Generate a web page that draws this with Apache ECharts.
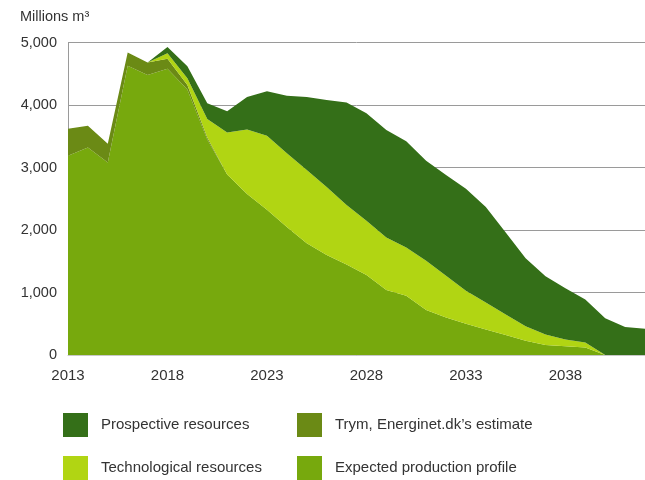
<!DOCTYPE html>
<html>
<head>
<meta charset="utf-8">
<script src="https://cdn.jsdelivr.net/npm/echarts@6/dist/echarts.min.js"></script>
<style>
  html, body { margin: 0; padding: 0; background: #fff; }
  #chart { width: 645px; height: 480px; }
</style>
</head>
<body>
<div id="chart"></div>
<script>
// Gas production outlook, millions m³ per year
const years = [];
for (let y = 2013; y <= 2042; y++) years.push(String(y));

const expectedProduction = [3190, 3320, 3080, 4630, 4480, 4580, 4250, 3450, 2890, 2575, 2325, 2050, 1790, 1600, 1450, 1280, 1040, 950, 720, 600, 500, 410, 320, 230, 160, 140, 120, 0, 0, 0];
const trymEstimate = [430, 350, 300, 210, 200, 160, 70, 30, 0, 0, 0, 0, 0, 0, 0, 0, 0, 0, 0, 0, 0, 0, 0, 0, 0, 0, 0, 0, 0, 0];
const technologicalResources = [0, 0, 0, 0, 0, 90, 110, 295, 670, 1035, 1185, 1180, 1170, 1090, 950, 870, 840, 770, 790, 670, 530, 430, 330, 230, 170, 110, 80, 0, 0, 0];
const prospectiveResources = [0, 0, 0, 0, 0, 100, 190, 255, 340, 520, 710, 920, 1170, 1390, 1640, 1720, 1720, 1700, 1600, 1610, 1630, 1530, 1310, 1090, 930, 820, 690, 590, 450, 420];

const yTicks = [0, 1000, 2000, 3000, 4000, 5000];

const names = {
  expected: 'Expected production profile',
  trym: 'Trym, Energinet.dk\u2019s estimate',
  tech: 'Technological resources',
  prosp: 'Prospective resources'
};
const colors = {
  expected: '#77a90d',
  trym: '#6b8a15',
  tech: '#b1d513',
  prosp: '#346f18'
};

const FONT = '"Liberation Sans", Arial, sans-serif';
const TEXT = '#333333';

function areaSeries(name, data, color) {
  return {
    name: name,
    type: 'line',
    stack: 'total',
    data: data,
    symbol: 'none',
    smooth: false,
    lineStyle: { width: 0, color: color },
    itemStyle: { color: color },
    areaStyle: { color: color, opacity: 1 },
    emphasis: { disabled: true }
  };
}

function legendItem(name, left, top) {
  return {
    data: [name],
    left: left,
    top: top,
    padding: 0,
    icon: 'rect',
    itemWidth: 25,
    itemHeight: 24,
    selectedMode: false,
    textStyle: { fontSize: 15, color: TEXT, fontFamily: FONT, padding: [0, 0, 0, 8] }
  };
}

const chart = echarts.init(document.getElementById('chart'), null, { renderer: 'canvas' });
chart.setOption({
  animation: false,
  backgroundColor: '#ffffff',
  title: {
    text: 'Millions m\u00B3',
    left: 20,
    top: 9,
    padding: 0,
    textStyle: { fontSize: 14.5, fontWeight: 'normal', color: TEXT, fontFamily: FONT }
  },
  legend: [
    legendItem(names.prosp, 63, 413),
    legendItem(names.trym, 297, 413),
    legendItem(names.tech, 63, 456),
    legendItem(names.expected, 297, 456)
  ],
  grid: { left: 68, right: -6, top: 42.5, bottom: 125, containLabel: false },
  xAxis: {
    type: 'category',
    data: years,
    boundaryGap: false,
    axisLine: { show: true, lineStyle: { color: '#c8c8c8', width: 1 } },
    axisTick: { show: false },
    axisLabel: { interval: 4, fontSize: 15, color: TEXT, fontFamily: FONT, margin: 13 },
    splitLine: { show: false }
  },
  yAxis: {
    type: 'value',
    min: yTicks[0],
    max: yTicks[yTicks.length - 1],
    interval: yTicks[1] - yTicks[0],
    axisLine: { show: true, lineStyle: { color: '#9a9a9a', width: 1 } },
    axisTick: { show: false },
    axisLabel: {
      fontSize: 14.5, color: TEXT, fontFamily: FONT, margin: 11,
      formatter: v => v.toLocaleString('en-US')
    },
    splitLine: { show: true, lineStyle: { color: '#9a9a9a', width: 1 } }
  },
  series: [
    areaSeries(names.expected, expectedProduction, colors.expected),
    areaSeries(names.trym, trymEstimate, colors.trym),
    areaSeries(names.tech, technologicalResources, colors.tech),
    areaSeries(names.prosp, prospectiveResources, colors.prosp)
  ]
});
</script>
</body>
</html>
